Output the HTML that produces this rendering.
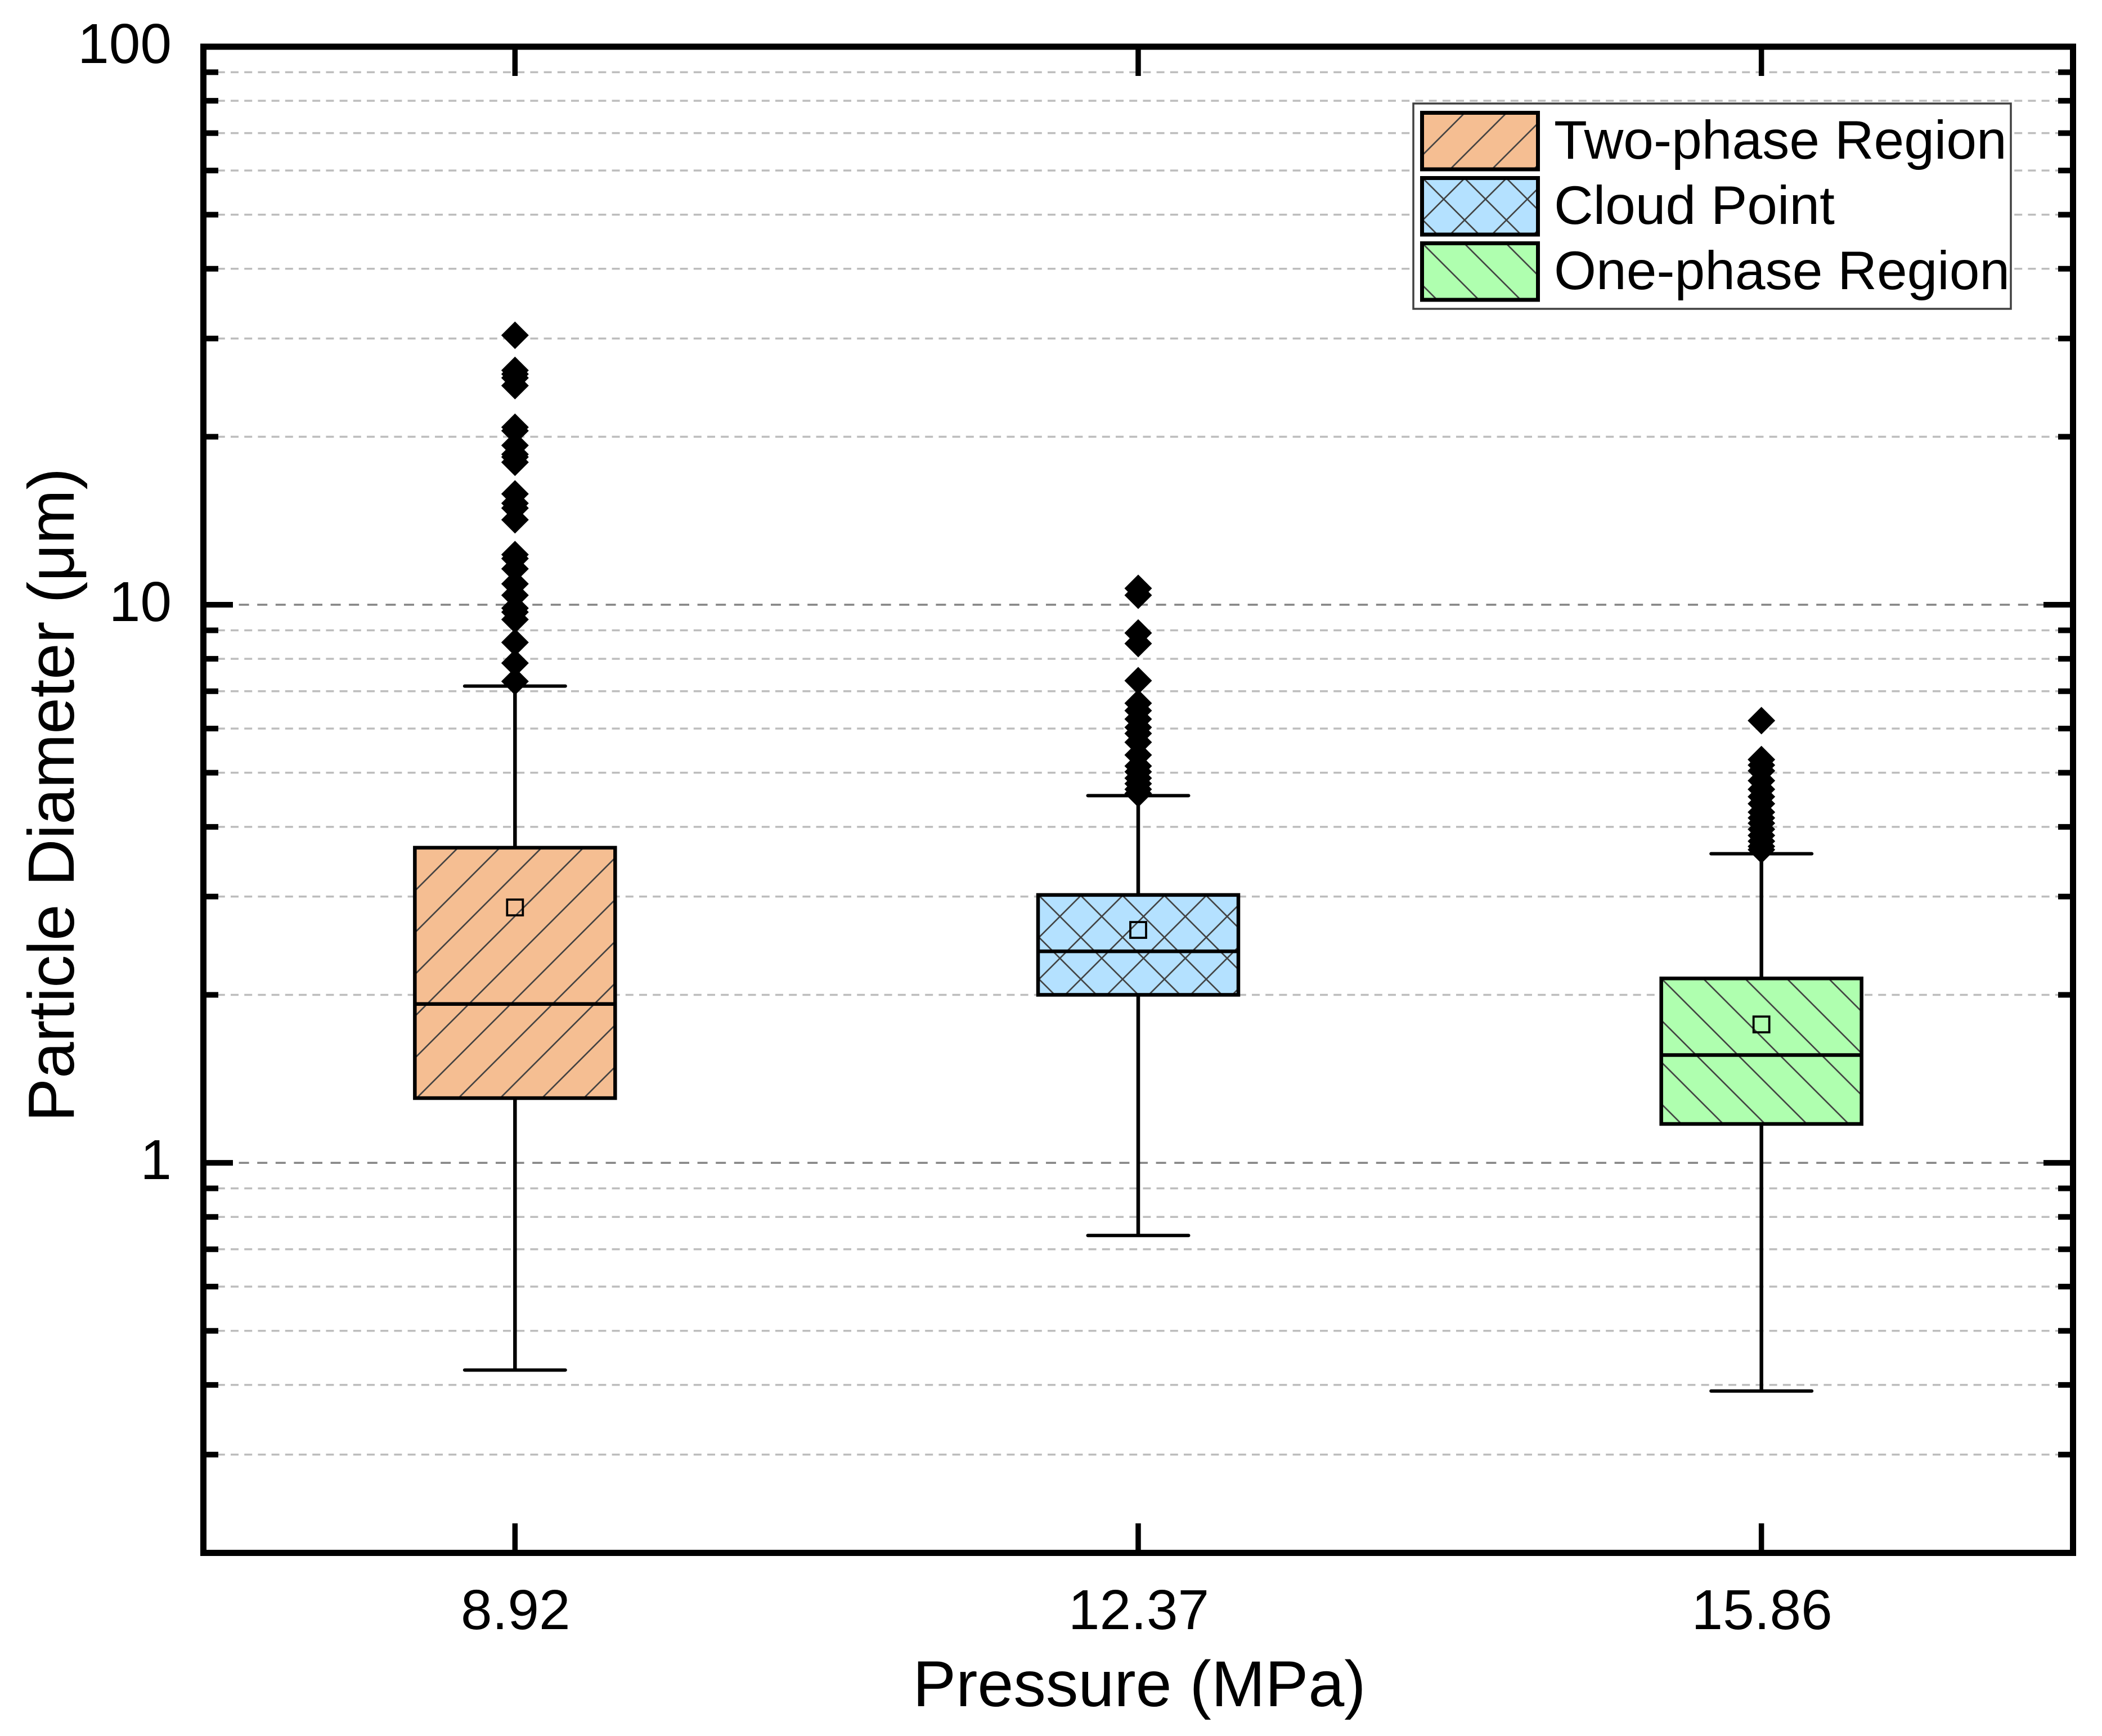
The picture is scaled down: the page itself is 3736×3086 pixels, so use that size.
<!DOCTYPE html>
<html lang="en">
<head>
<meta charset="utf-8">
<title>Particle Diameter vs Pressure</title>
<style>
html,body{margin:0;padding:0;background:#fff;}
svg{display:block;font-family:"Liberation Sans",Arial,sans-serif;}
text{fill:#000;}
</style>
</head>
<body>
<svg id="chart" xmlns="http://www.w3.org/2000/svg" width="3736" height="3086" viewBox="0 0 3736 3086">
  <defs>
    <pattern id="hatch-box-two" patternUnits="userSpaceOnUse" width="74.3" height="74.3" patternTransform="translate(2321 0)">
      <path d="M-10 84.3L84.3 -10M-10 10L10 -10M64.3 84.3L84.3 64.3" stroke="#404040" stroke-width="2.6" fill="none"/>
    </pattern>
    <pattern id="hatch-box-cloud-a" patternUnits="userSpaceOnUse" width="74.3" height="74.3" patternTransform="translate(3513 0)">
      <path d="M-10 84.3L84.3 -10M-10 10L10 -10M64.3 84.3L84.3 64.3" stroke="#404040" stroke-width="2.6" fill="none"/>
    </pattern>
    <pattern id="hatch-box-cloud-b" patternUnits="userSpaceOnUse" width="74.3" height="74.3" patternTransform="translate(329 0)">
      <path d="M-10 -10L84.3 84.3M-10 64.3L10 84.3M64.3 -10L84.3 10" stroke="#404040" stroke-width="2.6" fill="none"/>
    </pattern>
    <pattern id="hatch-box-one" patternUnits="userSpaceOnUse" width="74.3" height="74.3" patternTransform="translate(1287.7 0)">
      <path d="M-10 -10L84.3 84.3M-10 64.3L10 84.3M64.3 -10L84.3 10" stroke="#404040" stroke-width="2.6" fill="none"/>
    </pattern>
    <pattern id="hatch-leg-two" patternUnits="userSpaceOnUse" width="74.3" height="74.3" patternTransform="translate(2804 0)">
      <path d="M-10 84.3L84.3 -10M-10 10L10 -10M64.3 84.3L84.3 64.3" stroke="#404040" stroke-width="2.6" fill="none"/>
    </pattern>
    <pattern id="hatch-leg-cloud" patternUnits="userSpaceOnUse" width="74.3" height="74.3" patternTransform="translate(2920 0)">
      <path d="M-10 84.3L84.3 -10M-10 10L10 -10M64.3 84.3L84.3 64.3" stroke="#404040" stroke-width="2.6" fill="none"/>
    </pattern>
    <pattern id="hatch-leg-cloud-b" patternUnits="userSpaceOnUse" width="74.3" height="74.3" patternTransform="translate(2212 0)">
      <path d="M-10 -10L84.3 84.3M-10 64.3L10 84.3M64.3 -10L84.3 10" stroke="#404040" stroke-width="2.6" fill="none"/>
    </pattern>
    <pattern id="hatch-leg-one" patternUnits="userSpaceOnUse" width="74.3" height="74.3" patternTransform="translate(2095.5 0)">
      <path d="M-10 -10L84.3 84.3M-10 64.3L10 84.3M64.3 -10L84.3 10" stroke="#404040" stroke-width="2.6" fill="none"/>
    </pattern>
  </defs>
  <rect x="0" y="0" width="3736" height="3086" fill="#fff"/>
  <g id="grid"></g>
  <g id="series"></g>
  <g id="ticks"></g>
  <rect x="361.5" y="83" width="3323" height="2677.5" fill="none" stroke="#000" stroke-width="11"/>
  <g id="labels" font-size="100"></g>
  <text x="2025" y="3033" font-size="115" text-anchor="middle">Pressure (MPa)</text>
  <text transform="translate(131 1413) rotate(-90)" font-size="116" text-anchor="middle">Particle Diameter (μm)</text>
  <g>
    <rect x="2512" y="184" width="1062" height="365" fill="#fff" stroke="#404040" stroke-width="3.5"/>
    <g>
      <rect x="2527.5" y="200.5" width="206" height="100.5" fill="#F5BE92"/>
      <rect x="2527.5" y="200.5" width="206" height="100.5" fill="url(#hatch-leg-two)" stroke="#000" stroke-width="7"/>
      <text x="2762" y="282" font-size="96.5">Two-phase Region</text>
    </g>
    <g>
      <rect x="2527.5" y="316.5" width="206" height="100.5" fill="#B4E1FF"/>
      <rect x="2527.5" y="316.5" width="206" height="100.5" fill="url(#hatch-leg-cloud-b)"/>
      <rect x="2527.5" y="316.5" width="206" height="100.5" fill="url(#hatch-leg-cloud)" stroke="#000" stroke-width="7"/>
      <text x="2762" y="398" font-size="96.5">Cloud Point</text>
    </g>
    <g>
      <rect x="2527.5" y="432.5" width="206" height="100.5" fill="#AFFFAF"/>
      <rect x="2527.5" y="432.5" width="206" height="100.5" fill="url(#hatch-leg-one)" stroke="#000" stroke-width="7"/>
      <text x="2762" y="514" font-size="96.5">One-phase Region</text>
    </g>
  </g>
</svg>
<script>
// ---- data ----
const categories = ['8.92', '12.37', '15.86'];
const seriesNames = ['two-phase', 'cloud-point', 'one-phase'];
const q1Values = [1.306, 2.0, 1.174];
const medianValues = [1.926, 2.393, 1.56];
const q3Values = [3.67, 3.02, 2.14];
const meanValues = [2.868, 2.614, 1.77];
const whiskerLowValues = [0.4253, 0.741, 0.39];
const whiskerHighValues = [7.15, 4.55, 3.58];
const outliersTwoPhase = [30.4, 26.3, 25.9, 25.5, 24.7, 20.8, 20.5, 19.3, 18.6, 18.4, 18.0, 15.8, 15.2, 14.9, 14.2, 12.3, 12.1, 11.6, 10.9, 10.4, 9.86, 9.70, 9.41, 8.56, 7.86, 7.29];
const outliersCloudPoint = [10.7, 10.4, 8.90, 8.52, 7.31, 6.66, 6.46, 6.24, 6.03, 5.88, 5.67, 5.38, 5.14, 5.02, 4.89, 4.78, 4.67, 4.59];
const outliersOnePhase = [6.20, 5.28, 5.16, 5.04, 4.84, 4.67, 4.53, 4.40, 4.25, 4.15, 4.06, 3.96, 3.86, 3.77, 3.69, 3.64];
const majorTickValues = [1, 10];
const minorTickValues = [0.3, 0.4, 0.5, 0.6, 0.7, 0.8, 0.9, 2, 3, 4, 5, 6, 7, 8, 9, 20, 30, 40, 50, 60, 70, 80, 90];
const yTickLabels = ['1', '10', '100'];
const yTickLabelValues = [1, 10, 100];

// ---- axes ----
const plotLeft = 361.5, plotRight = 3684.5, plotTop = 83, plotBottom = 2760.5;
const yMin = 0.2, yMax = 100;
function yScale(v) {
  const t = (Math.log10(v) - Math.log10(yMin)) / (Math.log10(yMax) - Math.log10(yMin));
  return plotBottom - t * (plotBottom - plotTop);
}
function xScale(i) {
  return plotLeft + (i + 0.5) * (plotRight - plotLeft) / categories.length;
}

const NS = 'http://www.w3.org/2000/svg';
function el(parent, tag, attrs) {
  const n = document.createElementNS(NS, tag);
  for (const k in attrs) n.setAttribute(k, attrs[k]);
  parent.appendChild(n);
  return n;
}
const grid = document.getElementById('grid');
const ticks = document.getElementById('ticks');
const labels = document.getElementById('labels');
const series = document.getElementById('series');

// gridlines
minorTickValues.forEach(function (v) {
  const y = yScale(v);
  const line = el(grid, 'line', {x1: 361.6, x2: 3679, y1: y, y2: y, stroke: '#bdbdbd', 'stroke-width': 3.5, 'stroke-dasharray': '14 10.2'});
  
  
});
majorTickValues.forEach(function (v) {
  const y = yScale(v);
  const line = el(grid, 'line', {x1: 359.4, x2: 3679, y1: y, y2: y, stroke: '#848484', 'stroke-width': 3.5, 'stroke-dasharray': '18 14.6'});
  
  
});

// y ticks on both sides
minorTickValues.forEach(function (v) {
  const y = yScale(v);
  const l = el(ticks, 'line', {x1: 367, x2: 388, y1: y, y2: y, stroke: '#000', 'stroke-width': 10});
  
  
  const r = el(ticks, 'line', {x1: 3679, x2: 3658, y1: y, y2: y, stroke: '#000', 'stroke-width': 10});
  
  
});
majorTickValues.forEach(function (v) {
  const y = yScale(v);
  const l = el(ticks, 'line', {x1: 367, x2: 414, y1: y, y2: y, stroke: '#000', 'stroke-width': 10});
  
  
  const r = el(ticks, 'line', {x1: 3679, x2: 3632, y1: y, y2: y, stroke: '#000', 'stroke-width': 10});
  
  
});

// y tick labels
yTickLabels.forEach(function (label, i) {
  const t = el(labels, 'text', {x: 305, y: yScale(yTickLabelValues[i]) + 29, 'text-anchor': 'end'});
  
  
  t.textContent = label;
});

// x ticks & labels
categories.forEach(function (c, i) {
  const x = xScale(i);
  const b = el(ticks, 'line', {x1: x, x2: x, y1: 2708, y2: 2755, stroke: '#000', 'stroke-width': 9.5});
  
  
  const tp = el(ticks, 'line', {x1: x, x2: x, y1: 88, y2: 135, stroke: '#000', 'stroke-width': 9.5});
  
  
  const t = el(labels, 'text', {x: x + 1, y: 2896, 'text-anchor': 'middle'});
  
  
  t.textContent = c;
});

// boxes
const outlierSets = [outliersTwoPhase, outliersCloudPoint, outliersOnePhase];
const boxFills = ['#F5BE92', '#B4E1FF', '#AFFFAF'];
const boxHatches = [['hatch-box-two'], ['hatch-box-cloud-a', 'hatch-box-cloud-b'], ['hatch-box-one']];
const boxWidth = 356, capHalf = 89.5, diamondHalf = 24.5, meanSize = 28;

categories.forEach(function (c, i) {
  const x = xScale(i);
  const g = el(series, 'g', {});
  
  

  const wLow = yScale(whiskerLowValues[i]);
  const wHigh = yScale(whiskerHighValues[i]);
  const q1 = yScale(q1Values[i]);
  const q3 = yScale(q3Values[i]);
  const med = yScale(medianValues[i]);
  const mean = yScale(meanValues[i]);

  const stem = el(g, 'line', {x1: x, x2: x, y1: wHigh, y2: wLow, stroke: '#000', 'stroke-width': 6.5});
  
  

  const capHi = el(g, 'line', {x1: x - capHalf, x2: x + capHalf, y1: wHigh, y2: wHigh, stroke: '#000', 'stroke-width': 6, 'stroke-linecap': 'round'});
  
  

  const capLo = el(g, 'line', {x1: x - capHalf, x2: x + capHalf, y1: wLow, y2: wLow, stroke: '#000', 'stroke-width': 6, 'stroke-linecap': 'round'});
  
  

  outlierSets[i].forEach(function (v) {
    const y = yScale(v);
    const d = el(g, 'polygon', {points: [x, y - diamondHalf, x + diamondHalf, y, x, y + diamondHalf, x - diamondHalf, y].join(' '), fill: '#000'});
    
    
  });

  const fill = el(g, 'rect', {x: x - boxWidth / 2, y: q3, width: boxWidth, height: q1 - q3, fill: boxFills[i]});
  
  

  boxHatches[i].forEach(function (h) {
    const hatch = el(g, 'rect', {x: x - boxWidth / 2, y: q3, width: boxWidth, height: q1 - q3, fill: 'url(#' + h + ')'});
    
    
  });

  const box = el(g, 'rect', {x: x - boxWidth / 2, y: q3, width: boxWidth, height: q1 - q3, fill: 'none', stroke: '#000', 'stroke-width': 6.5});
  
  

  const medLine = el(g, 'line', {x1: x - boxWidth / 2, x2: x + boxWidth / 2, y1: med, y2: med, stroke: '#000', 'stroke-width': 6.5});
  
  

  const meanMark = el(g, 'rect', {x: x - meanSize / 2, y: mean - meanSize / 2, width: meanSize, height: meanSize, fill: 'none', stroke: '#000', 'stroke-width': 3.8});
  
  
});
</script>
</body>
</html>
